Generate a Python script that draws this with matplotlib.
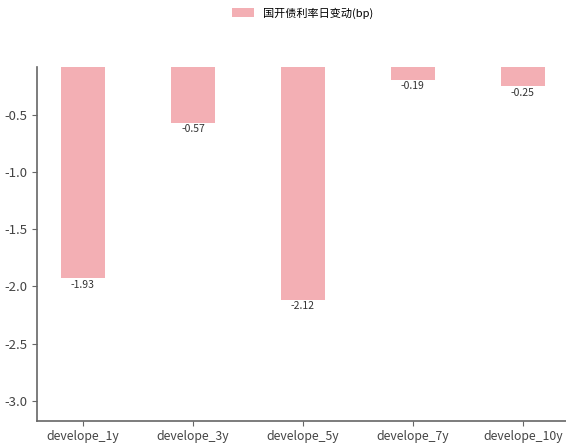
import matplotlib
matplotlib.use("Agg")
import matplotlib.pyplot as plt

categories = ["develope_1y", "develope_3y", "develope_5y", "develope_7y", "develope_10y"]
values = [-1.93, -0.57, -2.12, -0.19, -0.25]
series_name = "国开债利率日变动(bp)"

plt.rcParams['font.family'] = ['Noto Sans CJK SC', 'DejaVu Sans']
plt.rcParams['axes.unicode_minus'] = False

fig = plt.figure(figsize=(5.66, 4.45), dpi=100)
W, H = 566, 445
ax = fig.add_axes([36.7 / W, 1 - 420.7 / H, 532.4 / W, (420.7 - 67.3) / H])

x = list(range(len(categories)))
bars = ax.bar(x, values, width=0.4, color="#F3AFB4", label=series_name)
for xi, v in zip(x, values):
    ax.text(xi, v - 0.01, f"{v:.2f}", ha="center", va="top", fontsize=7.5, color="#333333")

ax.set_xticks(x)
ax.set_xticklabels(categories, fontsize=8.8, color="#444444")
ax.set_xlim(-0.42, 4.42)
ax.set_ylim(-3.175, -0.083)
ax.set_yticks([-3.0, -2.5, -2.0, -1.5, -1.0, -0.5])
ax.set_yticklabels(["-3.0", "-2.5", "-2.0", "-1.5", "-1.0", "-0.5"], fontsize=9.5, color="#444444")
for s in ["top", "right"]:
    ax.spines[s].set_visible(False)
for s in ["left", "bottom"]:
    ax.spines[s].set_color("#666666")
    ax.spines[s].set_linewidth(1.2)
ax.tick_params(axis="both", colors="#666666", length=3.5, labelcolor="#444444")

ax.legend(loc="center", bbox_to_anchor=(0.5, 1 + (67.3 - 13) / (420.7 - 67.3)), frameon=False,
          fontsize=8, handlelength=2.0, handleheight=0.8)

fig.savefig("out.png", dpi=100)
